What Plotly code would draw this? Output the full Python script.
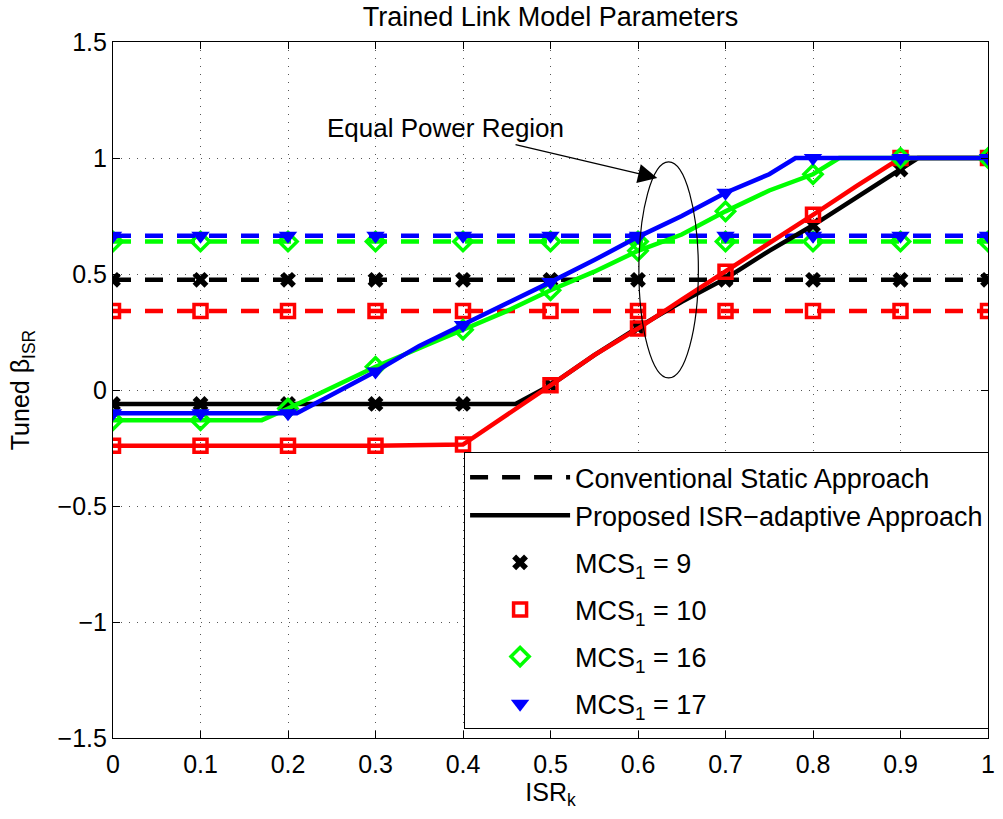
import numpy as np
import plotly.graph_objects as go

# ---------------- data ----------------
x_ticks = [0, 0.1, 0.2, 0.3, 0.4, 0.5, 0.6, 0.7, 0.8, 0.9, 1.0]
y_ticks = [-1.5, -1.0, -0.5, 0.0, 0.5, 1.0, 1.5]

mcs_labels = [9, 10, 16, 17]
static_beta = [0.475, 0.34, 0.64, 0.665]   # conventional static approach

isr_mcs9 = [0, 0.1, 0.2, 0.3, 0.4, 0.46, 0.5, 0.55, 0.6, 0.65, 0.7, 0.75, 0.8, 0.85, 0.9, 0.92, 1.0]
beta_mcs9 = [-0.06, -0.06, -0.06, -0.06, -0.06, -0.06, 0.02, 0.15, 0.27, 0.38, 0.48, 0.60, 0.71, 0.83, 0.95, 1.0, 1.0]

isr_mcs10 = [0, 0.1, 0.2, 0.3, 0.4, 0.45, 0.5, 0.55, 0.6, 0.65, 0.7, 0.75, 0.8, 0.85, 0.9, 1.0]
beta_mcs10 = [-0.24, -0.24, -0.24, -0.24, -0.235, -0.11, 0.02, 0.15, 0.265, 0.39, 0.51, 0.63, 0.755, 0.88, 1.0, 1.0]

isr_mcs16 = [0, 0.1, 0.17, 0.2, 0.25, 0.3, 0.35, 0.4, 0.45, 0.5, 0.55, 0.6, 0.65, 0.7, 0.75, 0.8, 0.83, 0.9, 1.0]
beta_mcs16 = [-0.13, -0.13, -0.13, -0.08, 0.01, 0.10, 0.18, 0.26, 0.34, 0.43, 0.51, 0.60, 0.67, 0.77, 0.86, 0.93, 1.0, 1.0, 1.0]

isr_mcs17 = [0, 0.1, 0.2, 0.21, 0.25, 0.3, 0.35, 0.4, 0.45, 0.5, 0.55, 0.6, 0.65, 0.7, 0.75, 0.78, 0.8, 0.9, 1.0]
beta_mcs17 = [-0.10, -0.10, -0.10, -0.10, -0.02, 0.08, 0.19, 0.28, 0.37, 0.465, 0.56, 0.66, 0.75, 0.85, 0.93, 1.0, 1.0, 1.0, 1.0]

# ---------------- styles ----------------
colors = ["#000000", "#ff0000", "#00ff00", "#0000ff"]
symbols = ["x", "square-open", "diamond-open", "triangle-down"]
msizes = [14, 13, 14, 16]
mline = [0, 3.5, 3.5, 0]
FONT = "Liberation Sans, Arial, sans-serif"
FS = 25

adaptive = [(isr_mcs9, beta_mcs9), (isr_mcs10, beta_mcs10),
            (isr_mcs16, beta_mcs16), (isr_mcs17, beta_mcs17)]

fig = go.Figure()


def marker_dict(i):
    return dict(symbol=symbols[i], size=msizes[i], color=colors[i],
                line=dict(color=colors[i], width=mline[i]))


# conventional static (dashed) lines with markers
for i, lvl in enumerate(static_beta):
    fig.add_trace(go.Scatter(x=x_ticks, y=[lvl] * len(x_ticks), mode="lines",
                             line=dict(color=colors[i], width=4.5, dash="18px,14px"),
                             showlegend=False, hoverinfo="skip"))
    fig.add_trace(go.Scatter(x=x_ticks, y=[lvl] * len(x_ticks), mode="markers",
                             marker=marker_dict(i), showlegend=False, hoverinfo="skip"))

# proposed ISR-adaptive (solid) lines with markers at the ticks
for i, (xs, ys) in enumerate(adaptive):
    fig.add_trace(go.Scatter(x=xs, y=ys, mode="lines",
                             line=dict(color=colors[i], width=4.5),
                             showlegend=False, hoverinfo="skip"))
    xs_a = np.array(xs)
    ys_a = np.array(ys)
    sel = [np.any(np.isclose(v, x_ticks)) for v in xs_a]
    fig.add_trace(go.Scatter(x=xs_a[sel], y=ys_a[sel], mode="markers",
                             marker=marker_dict(i), showlegend=False, hoverinfo="skip"))

# legend-only entries
fig.add_trace(go.Scatter(x=[None], y=[None], mode="lines",
                         line=dict(color="black", width=4.5, dash="18px,14px"),
                         name="Conventional Static Approach", legendgroup="a"))
fig.add_trace(go.Scatter(x=[None], y=[None], mode="lines",
                         line=dict(color="black", width=4.5),
                         name="Proposed ISR\u2212adaptive Approach", legendgroup="a"))
for i, m in enumerate(mcs_labels):
    fig.add_trace(go.Scatter(x=[None], y=[None], mode="markers", marker=marker_dict(i),
                             name=f"MCS<sub>1</sub> = {m}", legendgroup=f"m{m}"))

# annotation: Equal Power Region
fig.add_shape(type="circle", xref="x", yref="y", x0=0.601, x1=0.669, y0=0.052, y1=0.983,
              line=dict(color="black", width=1.2))
fig.add_annotation(x=0.622, y=0.914, xref="x", yref="y", ax=0.38, ay=1.129,
                   axref="x", ayref="y", text="Equal Power Region", showarrow=True,
                   arrowhead=2, arrowsize=3.2, arrowwidth=1.2, arrowcolor="black",
                   font=dict(family=FONT, size=26, color="black"))

axis_common = dict(showline=True, linecolor="black", linewidth=1.2, mirror="allticks",
                   ticks="inside", ticklen=7, tickcolor="black", showgrid=True,
                   gridcolor="#555555", gridwidth=1, griddash="1px,7px", zeroline=False,
                   tickfont=dict(family=FONT, size=FS, color="black"))

fig.update_xaxes(range=[0, 1], tickvals=x_ticks,
                 ticktext=[f"{v:g}" for v in x_ticks],
                 ticklabelstandoff=4,
                 title=dict(text="ISR<sub>k</sub>", font=dict(family=FONT, size=FS, color="black"),
                            standoff=6),
                 **axis_common)
fig.update_yaxes(range=[-1.5, 1.5], tickvals=y_ticks,
                 ticktext=[f"{v:g}".replace("-", "\u2212") for v in y_ticks],
                 title=dict(text="Tuned \u03b2<sub>ISR</sub>", font=dict(family=FONT, size=FS, color="black"),
                            standoff=20),
                 **axis_common)

fig.update_layout(
    width=1003, height=819,
    margin=dict(l=113, r=8, t=42, b=81),
    paper_bgcolor="white", plot_bgcolor="white",
    title=dict(text="Trained Link Model Parameters", x=0.5, xref="paper",
               y=1 - 17 / 819, yref="container", yanchor="middle",
               font=dict(family=FONT, size=27, color="black")),
    legend=dict(x=0.401, y=0.411, xanchor="left", yanchor="top",
                bgcolor="white", bordercolor="black", borderwidth=1.2,
                font=dict(family=FONT, size=27, color="black"),
                itemwidth=100, tracegroupgap=9),
    font=dict(family=FONT),
    showlegend=True,
)

fig.write_html("out.html", config={"displayModeBar": False},
               post_script="document.body.style.margin='0';")
